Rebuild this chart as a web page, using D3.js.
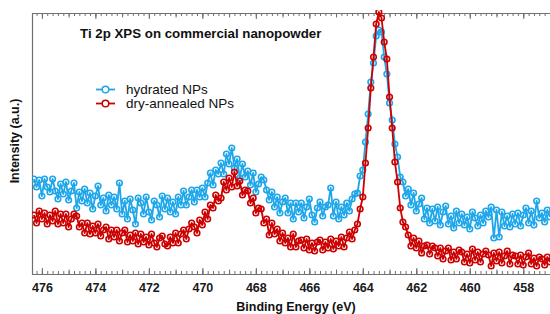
<!DOCTYPE html>
<html>
<head>
<meta charset="utf-8">
<script src="https://cdn.jsdelivr.net/npm/d3@7"></script>
<style>
  html, body { margin: 0; padding: 0; background: #fff; }
  svg { display: block; font-family: "Liberation Sans", Arial, sans-serif; }
</style>
</head>
<body>
<svg id="chart" width="550" height="314"></svg>
<script>
// Binding energy grid (eV)
const energies = [
  476.3,476.2,476.1,476.0,475.9,475.8,475.7,475.6,475.5,475.4,
  475.3,475.2,475.1,475.0,474.9,474.8,474.7,474.6,474.5,474.4,
  474.3,474.2,474.1,474.0,473.9,473.8,473.7,473.6,473.5,473.4,
  473.3,473.2,473.1,473.0,472.9,472.8,472.7,472.6,472.5,472.4,
  472.3,472.2,472.1,472.0,471.9,471.8,471.7,471.6,471.5,471.4,
  471.3,471.2,471.1,471.0,470.9,470.8,470.7,470.6,470.5,470.4,
  470.3,470.2,470.1,470.0,469.9,469.8,469.7,469.6,469.5,469.4,
  469.3,469.2,469.1,469.0,468.9,468.8,468.7,468.6,468.5,468.4,
  468.3,468.2,468.1,468.0,467.9,467.8,467.7,467.6,467.5,467.4,
  467.3,467.2,467.1,467.0,466.9,466.8,466.7,466.6,466.5,466.4,
  466.3,466.2,466.1,466.0,465.9,465.8,465.7,465.6,465.5,465.4,
  465.3,465.2,465.1,465.0,464.9,464.8,464.7,464.6,464.5,464.4,
  464.3,464.2,464.1,464.0,463.9,463.8,463.7,463.6,463.5,463.4,
  463.3,463.2,463.1,463.0,462.9,462.8,462.7,462.6,462.5,462.4,
  462.3,462.2,462.1,462.0,461.9,461.8,461.7,461.6,461.5,461.4,
  461.3,461.2,461.1,461.0,460.9,460.8,460.7,460.6,460.5,460.4,
  460.3,460.2,460.1,460.0,459.9,459.8,459.7,459.6,459.5,459.4,
  459.3,459.2,459.1,459.0,458.9,458.8,458.7,458.6,458.5,458.4,
  458.3,458.2,458.1,458.0,457.9,457.8,457.7,457.6,457.5,457.4,
  457.3,457.2,457.1,457.0
];

// Intensity (a.u.) — hydrated NPs
const hydrated = [
  95,87,94,78,95,87,82,95,83,75,
  90,80,92,74,83,91,66,82,73,85,
  71,81,65,78,88,69,76,63,79,69,
  77,65,91,60,73,55,75,64,50,76,
  71,60,77,62,54,73,69,57,78,65,
  76,62,72,60,77,69,83,69,77,84,
  72,84,77,86,77,91,101,89,104,100,
  111,100,120,110,126,106,115,96,110,97,
  103,89,101,82,90,97,94,84,74,82,
  67,77,61,72,76,61,71,55,71,62,
  71,56,67,75,59,52,66,72,58,67,
  69,86,58,72,55,67,59,71,63,75,
  80,81,98,104,132,160,192,211,238,244,
  242,217,200,171,154,130,117,97,92,78,
  85,69,81,63,70,76,55,66,51,65,
  53,67,49,62,68,50,58,46,63,51,
  60,49,57,45,62,56,48,59,51,63,
  57,67,36,64,37,62,48,58,47,60,
  50,61,48,59,66,51,63,49,73,56,
  61,52,64,57
];

// Intensity (a.u.) — dry-annealed NPs
const dryAnnealed = [
  59,51,63,55,61,50,59,53,63,50,
  60,51,60,47,55,60,58,47,51,41,
  51,40,48,41,50,38,44,47,35,44,
  37,44,33,41,44,32,39,33,41,30,
  40,32,37,29,40,31,27,36,38,30,
  28,37,31,41,31,40,44,35,45,51,
  47,41,54,49,62,55,69,66,79,73,
  76,92,84,96,87,102,88,93,79,84,
  83,71,76,61,66,65,51,55,39,51,
  40,45,33,41,31,36,27,40,27,33,
  34,26,35,24,31,23,32,34,24,32,
  26,35,25,33,28,37,27,36,42,35,
  44,50,65,77,111,146,186,217,250,262,
  256,232,215,177,146,112,92,66,52,47,
  39,28,36,26,33,21,28,29,20,28,
  26,18,26,15,23,26,14,22,15,24,
  22,12,20,11,25,14,22,12,20,23,
  19,8,21,13,22,11,18,23,10,19,
  18,10,19,9,17,21,10,16,8,17,
  15,9,17,12
];

const seriesNames = ["hydrated NPs", "dry-annealed NPs"];
const seriesColors = ["#1ea6ea", "#cc0000"];
const majorTicks = [476, 474, 472, 470, 468, 466, 464, 462, 460, 458];
const chartTitle = "Ti 2p XPS on commercial nanopowder";
const xTitle = "Binding Energy (eV)";
const yTitle = "Intensity (a.u.)";

const svg = d3.select("#chart");
const L = 32, R = 550, T = 13, B = 274;

const x = d3.scaleLinear().domain([476.37, 457.0]).range([L, R]);
const y = d3.scaleLinear().domain([0, 261]).range([B, T]);

const axisColor = "#707070";

svg.append("defs").append("clipPath").attr("id", "plotclip")
  .append("rect").attr("x", L).attr("y", 10).attr("width", R - L).attr("height", B - 10 + 2);

const minorTicks = d3.range(457.2, 476.35, 0.2).map(v => +v.toFixed(1));
const midTicks = d3.range(457, 477, 1);

function drawTicks(g, pos, values, size) {
  const axis = (pos === "bottom" ? d3.axisBottom(x) : d3.axisTop(x))
    .tickValues(values).tickSize(-size).tickSizeOuter(0).tickFormat("");
  g.call(axis);
  g.select(".domain").remove();
  g.selectAll(".tick line").attr("stroke", axisColor).attr("stroke-width", 1);
}

const gb = svg.append("g").attr("transform", `translate(0,${B})`);
drawTicks(gb.append("g"), "bottom", minorTicks, 3);
drawTicks(gb.append("g"), "bottom", midTicks, 4.5);
const gbMajor = gb.append("g");
gbMajor.call(d3.axisBottom(x).tickValues(majorTicks).tickSize(-6).tickSizeOuter(0).tickPadding(9).tickFormat(d3.format("d")));
gbMajor.select(".domain").remove();
gbMajor.selectAll(".tick line").attr("stroke", axisColor);
gbMajor.selectAll(".tick text")
  .attr("font-size", 12.5).attr("font-weight", "bold").attr("fill", "#1a1a1a")
  .attr("font-family", "Liberation Sans, Arial, sans-serif");

const gt = svg.append("g").attr("transform", `translate(0,${T})`);
drawTicks(gt.append("g"), "top", minorTicks, 3);
drawTicks(gt.append("g"), "top", midTicks, 4.5);
drawTicks(gt.append("g"), "top", majorTicks, 6);

svg.append("line").attr("x1", L).attr("x2", R).attr("y1", B + 0.5).attr("y2", B + 0.5)
  .attr("stroke", axisColor).attr("stroke-width", 1.2);
svg.append("line").attr("x1", L).attr("x2", R).attr("y1", T + 0.5).attr("y2", T + 0.5)
  .attr("stroke", axisColor).attr("stroke-width", 1.2);
svg.append("line").attr("x1", L + 0.5).attr("x2", L + 0.5).attr("y1", T).attr("y2", B + 1)
  .attr("stroke", axisColor).attr("stroke-width", 1.2);

const plot = svg.append("g").attr("clip-path", "url(#plotclip)");
const seriesData = [hydrated, dryAnnealed];
const line = d3.line().x(d => x(d[0])).y(d => y(d[1]));

seriesData.forEach((vals, si) => {
  const pts = energies.map((e, i) => [e, vals[i]]);
  const g = plot.append("g");
  g.append("path").datum(pts).attr("d", line)
    .attr("fill", "none").attr("stroke", seriesColors[si]).attr("stroke-width", 1.8)
    .attr("stroke-linejoin", "round");
  g.selectAll("circle").data(pts).join("circle")
    .attr("cx", d => x(d[0])).attr("cy", d => y(d[1])).attr("r", 2.8)
    .attr("fill", "none").attr("stroke", seriesColors[si]).attr("stroke-width", 1.6);
});

svg.append("text").attr("x", 80).attr("y", 37.5)
  .attr("font-size", 13.3).attr("font-weight", "bold").attr("fill", "#111")
  .text(chartTitle);

const legY = [89.5, 103.5];
seriesNames.forEach((name, i) => {
  const g = svg.append("g");
  g.append("line").attr("x1", 96).attr("x2", 115).attr("y1", legY[i]).attr("y2", legY[i])
    .attr("stroke", seriesColors[i]).attr("stroke-width", 1.8);
  g.append("circle").attr("cx", 105.5).attr("cy", legY[i]).attr("r", 3.3)
    .attr("fill", "#fff").attr("stroke", seriesColors[i]).attr("stroke-width", 1.5);
  g.append("text").attr("x", 126).attr("y", legY[i] + 4.6)
    .attr("font-size", 13.5).attr("fill", "#111").text(name);
});

svg.append("text").attr("x", (L + R) / 2 + 5).attr("y", 311)
  .attr("text-anchor", "middle").attr("font-size", 12.5).attr("font-weight", "bold").attr("fill", "#111")
  .text(xTitle);
svg.append("text").attr("transform", "translate(19,141) rotate(-90)")
  .attr("text-anchor", "middle").attr("font-size", 12.5).attr("font-weight", "bold").attr("fill", "#111")
  .text(yTitle);
</script>
</body>
</html>
